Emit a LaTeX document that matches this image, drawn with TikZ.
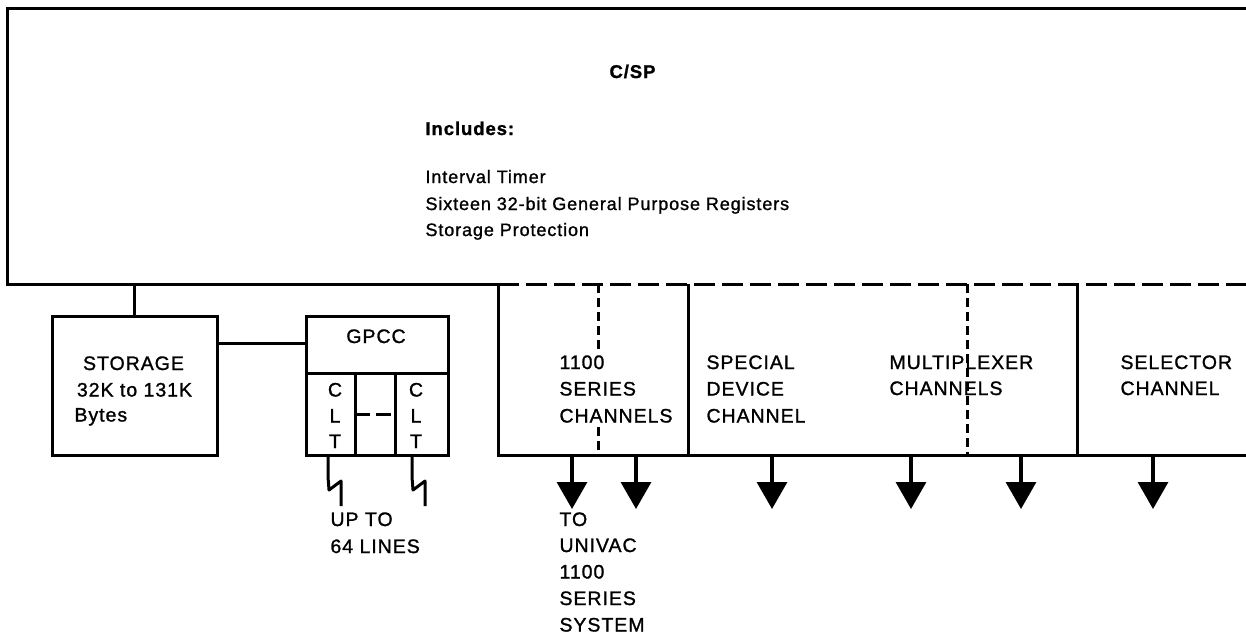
\documentclass[tikz,border=0pt]{standalone}
\usepackage{fontspec}
\setmainfont{Liberation Sans}[LetterSpace=5, FakeBold=1.2]
\usetikzlibrary{arrows.meta}
\begin{document}
\begin{tikzpicture}[x=1pt,y=-1pt, line width=3pt,
  lbl/.style={inner sep=0pt, anchor=base west, font=\fontsize{19.5}{24}\selectfont},
  lblc/.style={lbl, anchor=base},
  toptxt/.style={inner sep=0pt, anchor=base west, font=\fontsize{18}{22}\selectfont},
  topbold/.style={toptxt, font=\fontsize{18.5}{22}\selectfont\bfseries},
  boxnode/.style={draw, line width=3pt, inner sep=0pt, outer sep=0pt},
  hdash/.style={dash pattern=on 21pt off 7pt},
  vdash/.style={dash pattern=on 9pt off 5pt},
  shortdash/.style={dash pattern=on 15pt off 6pt},
  outarrow/.style={line width=3.2pt, -{Triangle[width=30pt,length=27pt]}},
  wave/.style={line width=3pt, line join=round}]
\useasboundingbox (0,0) rectangle (1246,637);

% ---- C/SP box (open on the right) ----
\coordinate (cspTL) at (7,8);
\coordinate (cspTR) at (1246,8);
\coordinate (cspBL) at (7,284);
\coordinate (chanTL) at (498,284);
\coordinate (chanTR) at (1246,284);
\coordinate (chanBL) at (498,455);
\coordinate (chanBR) at (1246,455);
\draw (cspTR) -- (cspTL) -- (cspBL) -- (chanTL);
\draw[hdash] (chanTL) -- (chanTR);
\draw (chanTL) -- (chanBL) -- (chanBR);

\node[topbold] (csptitle) at (608,78) {C/SP};
\node[topbold] (incl) at (424,135) {Includes:};
\node[toptxt] (it1) at (424,183) {Interval Timer};
\node[toptxt] (it2) at (424,210) {Sixteen 32-bit General Purpose Registers};
\node[toptxt] (it3) at (424,236) {Storage Protection};

% ---- channel dividers ----
\coordinate (d1t) at (598,284);
\coordinate (d1m) at (598,350);
\coordinate (d1n) at (598,427);
\coordinate (d1b) at (598,455);
\coordinate (s1t) at (688,284);
\coordinate (s1b) at (688,455);
\coordinate (d2t) at (967,284);
\coordinate (d2b) at (967,455);
\coordinate (s2t) at (1077,284);
\coordinate (s2b) at (1077,455);
\draw[vdash] (d1t) -- (d1m);
\draw[vdash] (d1n) -- (d1b);
\draw (s1t) -- (s1b);
\draw[vdash] (d2t) -- (d2b);
\draw (s2t) -- (s2b);

\node[lbl] (c1a) at (558,369) {1100};
\node[lbl] (c1b) at (558,395.5) {SERIES};
\node[lbl] (c1c) at (558,422.5) {CHANNELS};
\node[lbl] (c2a) at (705,369) {SPECIAL};
\node[lbl] (c2b) at (705,395.5) {DEVICE};
\node[lbl] (c2c) at (705,422.5) {CHANNEL};
\node[lbl] (c3a) at (888,369) {MULTIPLEXER};
\node[lbl] (c3b) at (888,395) {CHANNELS};
\node[lbl] (c4a) at (1119,369) {SELECTOR};
\node[lbl] (c4b) at (1119,395) {CHANNEL};

% ---- output arrows ----
\foreach \n/\x in {a1/572, a2/636, a3/772, a4/911, a5/1021, a6/1153}{
  \coordinate (\n t) at (\x,455);
  \coordinate (\n b) at (\x,509);
  \draw[outarrow] (\n t) -- (\n b);
}

\node[lbl] (to1) at (558,526) {TO};
\node[lbl] (to2) at (558,552) {UNIVAC};
\node[lbl] (to3) at (558,578.5) {1100};
\node[lbl] (to4) at (558,605) {SERIES};
\node[lbl] (to5) at (558,631.5) {SYSTEM};

% ---- storage ----
\node[boxnode, minimum width=165pt, minimum height=139pt] (storage) at (134.5,385.5) {};
\draw (storage.north) -- (storage.north |- cspBL);
\node[lblc] (st1) at (133.5,370) {STORAGE};
\node[lblc] (st2) at (134.5,396.5) {32K to 131K};
\node[lbl] (st3) at (73,421.5) {Bytes};

% ---- GPCC ----
\node[boxnode, minimum width=142pt, minimum height=139pt] (gpcc) at (377,385.5) {};
\node[boxnode, minimum width=49pt, minimum height=82pt] (clt1) at (330.5,414) {};
\node[boxnode, minimum width=53pt, minimum height=82pt] (clt2) at (421.5,414) {};
\draw (gpcc.west |- clt1.north) -- (gpcc.east |- clt1.north);
\coordinate (gpcchead) at (306,343);
\draw (storage.east |- gpcchead) -- (gpcchead);
\node[lblc] (gpcctxt) at (376,343) {GPCC};
\draw[shortdash] (clt1.east) -- (clt2.west);

\node[lblc] (l1c) at (335,396.5) {C};
\node[lblc] (l1l) at (335,422.5) {L};
\node[lblc] (l1t) at (335,448) {T};
\node[lblc] (l2c) at (416,396.5) {C};
\node[lblc] (l2l) at (416,422.5) {L};
\node[lblc] (l2t) at (416,448) {T};

\coordinate (w1) at (328,455);
\coordinate (w2) at (412,455);
\draw[wave] (w1) -- ++(0,22) -- ++(1,13) -- ++(12,-9) -- ++(0,25);
\draw[wave] (w2) -- ++(0,22) -- ++(1,13) -- ++(12,-9) -- ++(0,25);

\node[lbl] (up1) at (329,526) {UP TO};
\node[lbl] (up2) at (329,553) {64 LINES};
\end{tikzpicture}
\end{document}
